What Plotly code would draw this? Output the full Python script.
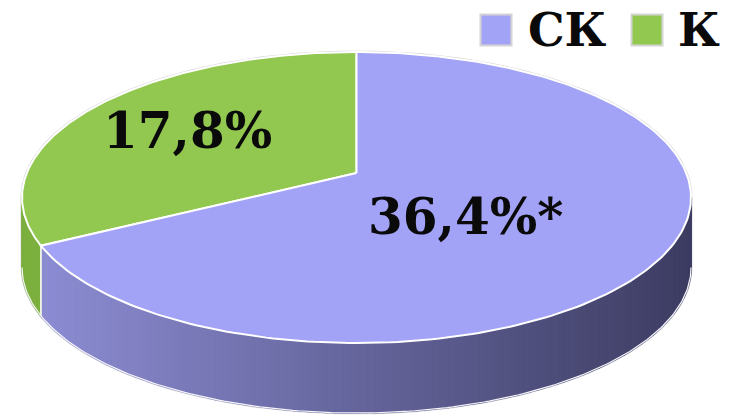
import numpy as np
import plotly.graph_objects as go

# Slice data (drawn counter-clockwise from 12 o'clock)
slice_labels = ["К", "СК"]
slice_values = [17.8, 36.4]
slice_texts = ["17,8%", "36,4%*"]
top_colors = ["#92c850", "#a2a2f6"]
side_left = [(124, 176, 62), (142, 142, 214)]
side_right = [(110, 160, 52), (60, 60, 98)]

# Legend order
legend_labels = ["СК", "К"]
legend_colors = ["#a2a2f6", "#92c850"]

W, H = 734, 418
CX, CY, RX, RY = 356.5, 197.5, 334.5, 145.5
DEPTH = 70
TILT = np.arctanh(0.168)  # perspective shift of the pie centre
SH, CH = np.sinh(TILT), np.cosh(TILT)


def project(phi_deg, r=1.0):
    """Perspective projection of a point on the pie's top disc."""
    p = np.radians(np.asarray(phi_deg, dtype=float))
    x, y = r * np.cos(p), r * np.sin(p)
    w = SH * y + CH
    X = x / w
    Y = (CH * y + SH) / w
    return CX + RX * X, CY - RY * Y


fig = go.Figure()

total = sum(slice_values)
bounds = []
start = 90.0
for v in slice_values:
    end = start + 360.0 * v / total
    bounds.append((start, end))
    start = end

# visible front wall spans between the silhouette extremes
front_lo = 180 + np.degrees(np.arcsin(np.tanh(TILT)))
front_hi = 360 - np.degrees(np.arcsin(np.tanh(TILT)))


def lerp_col(c0, c1, t):
    return "rgb(%d,%d,%d)" % tuple(round(a + (b - a) * t) for a, b in zip(c0, c1))


# faint silhouette outline behind everything
arc_all = np.linspace(0, 360, 400)
sx, sy = project(arc_all)
fig.add_trace(go.Scatter(x=sx, y=sy, mode="lines", line=dict(color="#d6d6dc", width=3),
                         hoverinfo="skip", showlegend=False))
arc_front = np.linspace(front_lo, front_hi, 200)
fx, fy = project(arc_front)
fig.add_trace(go.Scatter(x=fx, y=fy + DEPTH, mode="lines", line=dict(color="#d6d6dc", width=3),
                         hoverinfo="skip", showlegend=False))
for a in (front_lo, front_hi):
    px, py = project(a)
    fig.add_trace(go.Scatter(x=[px, px], y=[py, py + DEPTH], mode="lines",
                             line=dict(color="#d6d6dc", width=3),
                             hoverinfo="skip", showlegend=False))

# side walls, shaded in thin strips
for i, (s, e) in enumerate(bounds):
    for off in (0, 360, -360):
        lo, hi = max(s + off, front_lo), min(e + off, front_hi)
        if lo >= hi:
            continue
        edges = np.linspace(lo, hi, max(2, int((hi - lo) / 1.2) + 2))
        for a0, a1 in zip(edges[:-1], edges[1:]):
            ang = np.linspace(a0, a1, 4)
            tx, ty = project(ang)
            xs = np.concatenate([tx, tx[::-1]])
            ys = np.concatenate([ty, (ty + DEPTH)[::-1]])
            t = float(np.clip((np.mean(tx) - CX + RX) / (2 * RX), 0, 1))
            col = lerp_col(side_left[i], side_right[i], t)
            fig.add_trace(go.Scatter(x=xs, y=ys, fill="toself", fillcolor=col,
                                     mode="lines", line=dict(color=col, width=1.6),
                                     hoverinfo="skip", showlegend=False))

# light edge along the bottom of the wall
fig.add_trace(go.Scatter(x=fx, y=fy + DEPTH, mode="lines",
                         line=dict(color="#f6f6fa", width=1.2),
                         hoverinfo="skip", showlegend=False))
# seam between slices on the wall
for s, e in bounds:
    for a in (s, e, s + 360, e - 360):
        if front_lo < a < front_hi:
            px, py = project(a)
            fig.add_trace(go.Scatter(x=[px, px], y=[py, py + DEPTH], mode="lines",
                                     line=dict(color="#eef4e4", width=1.5),
                                     hoverinfo="skip", showlegend=False))

# top faces
apex = project(0, r=0.0)
for i, (s, e) in enumerate(bounds):
    ang = np.linspace(s, e, 240)
    tx, ty = project(ang)
    xs = np.concatenate([[apex[0]], tx, [apex[0]]])
    ys = np.concatenate([[apex[1]], ty, [apex[1]]])
    fig.add_trace(go.Scatter(x=xs, y=ys, fill="toself", fillcolor=top_colors[i],
                             mode="lines", line=dict(color="white", width=2),
                             name=slice_labels[i], hoverinfo="skip", showlegend=False))

# slice labels
label_pos = [(187, 130), (465, 216)]
for txt, (lx, ly) in zip(slice_texts, label_pos):
    fig.add_annotation(x=lx, y=ly, text=txt, showarrow=False,
                       font=dict(family="DejaVu Serif", size=50, color="#0a0a0a", weight="bold"),
                       xanchor="center", yanchor="middle")

# legend
leg_x = [496, 647]
leg_text_x = [526, 676]
for lab, col, mx, tx in zip(legend_labels, legend_colors, leg_x, leg_text_x):
    fig.add_trace(go.Scatter(x=[mx], y=[30], mode="markers",
                             marker=dict(symbol="square", size=31, color=col,
                                         line=dict(color="#d4d4d4", width=2)),
                             hoverinfo="skip", showlegend=False))
    fig.add_annotation(x=tx, y=30, text=lab, showarrow=False,
                       font=dict(family="DejaVu Serif", size=46, color="#0a0a0a", weight="bold"),
                       xanchor="left", yanchor="middle")

fig.update_xaxes(range=[0, W], visible=False, fixedrange=True)
fig.update_yaxes(range=[H, 0], visible=False, fixedrange=True)
fig.update_layout(width=W, height=H, margin=dict(l=0, r=0, t=0, b=0),
                  paper_bgcolor="white", plot_bgcolor="white", showlegend=False)

fig.write_html("out.html")
